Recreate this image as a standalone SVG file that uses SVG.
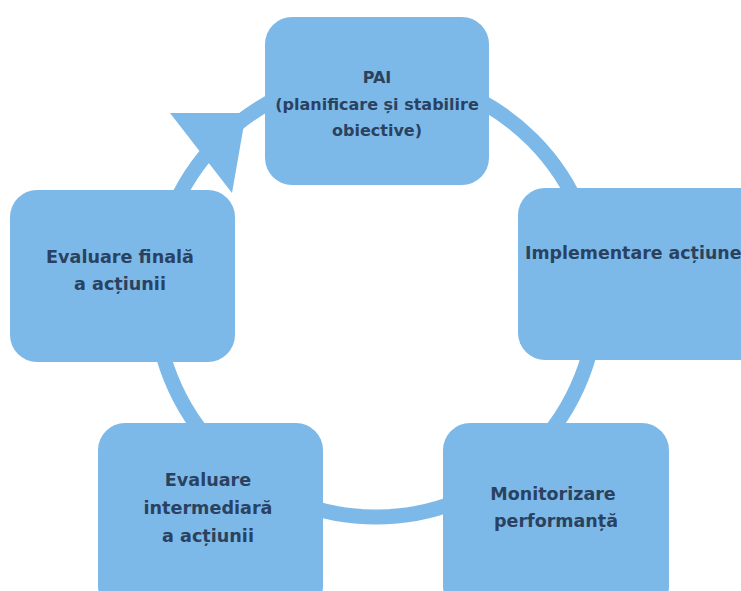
<svg xmlns="http://www.w3.org/2000/svg" width="741" height="591" viewBox="0 0 741 591">
<style>
.node{fill:#7db9e8;}
.t{font-family:"DejaVu Sans","Liberation Sans",sans-serif;font-weight:bold;fill:#2a4260;text-anchor:middle;}
.ring{fill:none;stroke:#7db9e8;stroke-width:15;}
</style>
<rect width="741" height="591" fill="#ffffff"/>
<g id="connectors">
<circle class="ring" cx="376" cy="296" r="221"/>
<polygon points="170,113 246,113 232,193" fill="#7db9e8"/>
</g>
<g id="node-pai">
<rect class="node" x="265" y="17" width="224" height="168" rx="27"/>
<text class="t" font-size="16" x="377" y="83">PAI</text>
<text class="t" font-size="16" x="377" y="110">(planificare și stabilire</text>
<text class="t" font-size="16" x="377" y="136">obiective)</text>
</g>
<g id="node-implementare">
<rect class="node" x="518" y="188" width="250" height="172" rx="27"/>
<text class="t" font-size="17.4" x="525" y="259" style="text-anchor:start">Implementare acțiune</text>
</g>
<g id="node-monitorizare">
<rect class="node" x="443" y="423" width="226" height="190" rx="27"/>
<text class="t" font-size="17.5" x="553" y="500">Monitorizare</text>
<text class="t" font-size="17.5" x="556" y="527">performanță</text>
</g>
<g id="node-evaluare-intermediara">
<rect class="node" x="98" y="423" width="225" height="190" rx="27"/>
<text class="t" font-size="17.6" x="208" y="486">Evaluare</text>
<text class="t" font-size="17.6" x="208" y="514">intermediară</text>
<text class="t" font-size="17.6" x="208" y="542">a acțiunii</text>
</g>
<g id="node-evaluare-finala">
<rect class="node" x="10" y="190" width="225" height="172" rx="27"/>
<text class="t" font-size="17.6" x="120" y="263">Evaluare finală</text>
<text class="t" font-size="17.6" x="120" y="290">a acțiunii</text>
</g>
</svg>
